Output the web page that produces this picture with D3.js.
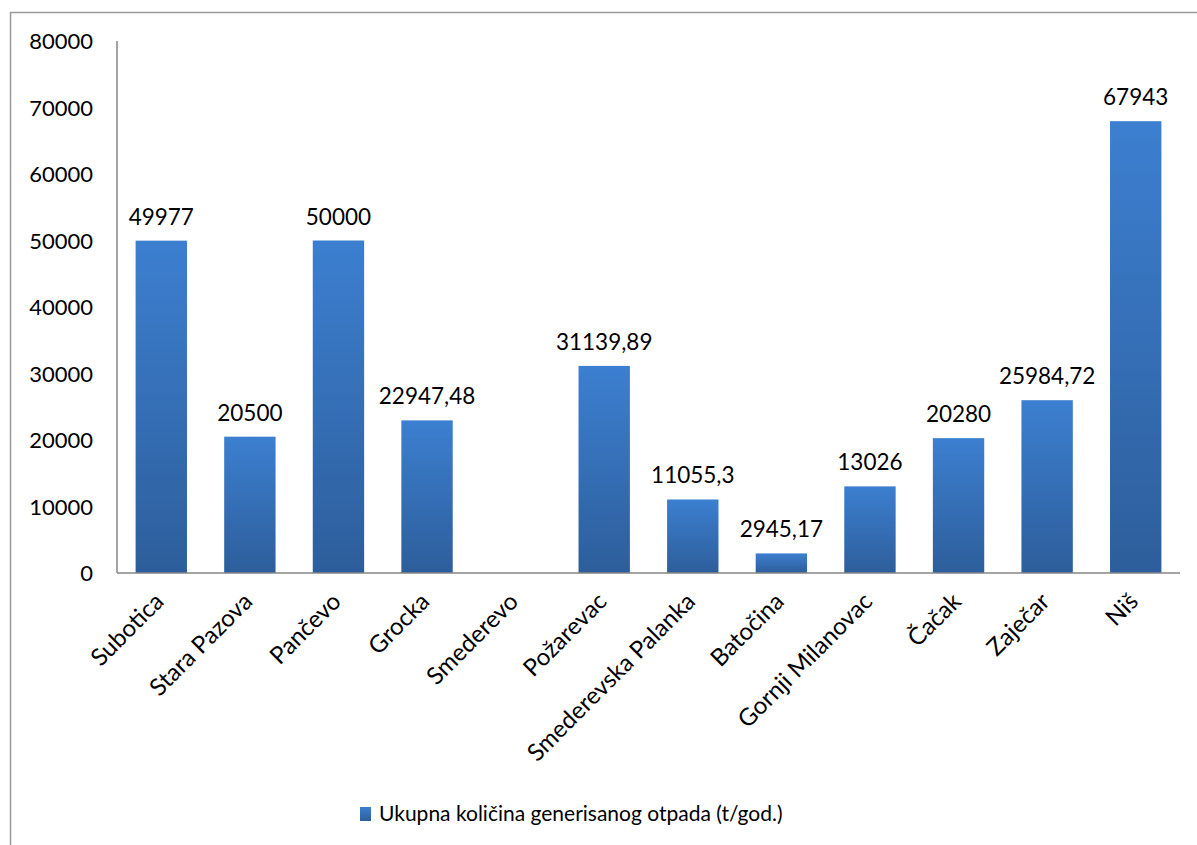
<!DOCTYPE html>
<html>
<head>
<meta charset="utf-8">
<script src="https://cdn.jsdelivr.net/npm/d3@7"></script>
<style>
  html, body { margin: 0; padding: 0; background: #fff; }
  svg { display: block; font-family: Lato, "Liberation Sans", sans-serif; }
</style>
</head>
<body>
<svg id="chart" width="1197" height="845"></svg>
<script>
// Municipalities and total generated waste (t/year); Smederevo has no value
const categories = ["Subotica", "Stara Pazova", "Pančevo", "Grocka", "Smederevo", "Požarevac",
  "Smederevska Palanka", "Batočina", "Gornji Milanovac", "Čačak", "Zaječar", "Niš"];
const values = [49977, 20500, 50000, 22947.48, null, 31139.89, 11055.3, 2945.17, 13026, 20280, 25984.72, 67943];
const valueLabels = ["49977", "20500", "50000", "22947,48", "", "31139,89", "11055,3", "2945,17", "13026", "20280", "25984,72", "67943"];
const yTicks = [0, 10000, 20000, 30000, 40000, 50000, 60000, 70000, 80000];
const seriesName = "Ukupna količina generisanog otpada (t/god.)";

const svg = d3.select("#chart");
const plot = { left: 117, right: 1180, top: 41, bottom: 573 };

// Outer chart frame (continues past the right and bottom edges)
svg.append("rect")
  .attr("x", 10.5).attr("y", 12.5)
  .attr("width", 1300).attr("height", 900)
  .attr("fill", "#fff").attr("stroke", "#9a9a9a").attr("stroke-width", 1.5);

const defs = svg.append("defs");
const grad = defs.append("linearGradient")
  .attr("id", "barFill").attr("x1", 0).attr("y1", 0).attr("x2", 0).attr("y2", 1);
grad.append("stop").attr("offset", "0%").attr("stop-color", "#3c7fd0");
grad.append("stop").attr("offset", "100%").attr("stop-color", "#2d5e9b");

const x = d3.scaleBand()
  .domain(categories)
  .range([plot.left, plot.right])
  .paddingInner(0.42)
  .paddingOuter(0.21);

const y = d3.scaleLinear()
  .domain([0, 80000])
  .range([plot.bottom, plot.top]);

// Y axis labels
const yAxis = d3.axisLeft(y).tickValues(yTicks).tickSize(0).tickPadding(0).tickFormat(d3.format("d"));
const gy = svg.append("g").attr("transform", `translate(${plot.left - 24},0)`).call(yAxis);
gy.select(".domain").remove();
gy.selectAll("text")
  .attr("font-family", "Lato, 'Liberation Sans', sans-serif")
  .attr("font-size", 22).attr("fill", "#000").attr("dy", "0.35em");

// Bars
const data = categories.map((c, i) => ({ c, v: values[i], label: valueLabels[i] }));
svg.append("g").selectAll("rect")
  .data(data.filter(d => d.v != null))
  .join("rect")
  .attr("x", d => x(d.c))
  .attr("y", d => y(d.v))
  .attr("width", x.bandwidth())
  .attr("height", d => y(0) - y(d.v))
  .attr("fill", "url(#barFill)");

// Value labels
svg.append("g").selectAll("text")
  .data(data.filter(d => d.v != null))
  .join("text")
  .attr("x", d => x(d.c) + x.bandwidth() / 2)
  .attr("y", d => y(d.v) - 16)
  .attr("text-anchor", "middle")
  .attr("font-size", 22.5)
  .attr("fill", "#000")
  .text(d => d.label);

// Axis lines
svg.append("line")
  .attr("x1", plot.left).attr("x2", plot.left)
  .attr("y1", plot.top).attr("y2", plot.bottom)
  .attr("stroke", "#868686").attr("stroke-width", 1.5);
svg.append("line")
  .attr("x1", plot.left).attr("x2", plot.right)
  .attr("y1", plot.bottom).attr("y2", plot.bottom)
  .attr("stroke", "#868686").attr("stroke-width", 1.5);

// Rotated category labels
const xAxis = d3.axisBottom(x).tickSize(0).tickPadding(0);
const gx = svg.append("g").attr("transform", `translate(0,${plot.bottom})`).call(xAxis);
gx.select(".domain").remove();
gx.selectAll("text")
  .attr("font-family", "Lato, 'Liberation Sans', sans-serif")
  .attr("font-size", 24).attr("fill", "#000")
  .attr("text-anchor", "end")
  .attr("dy", null)
  .attr("transform", "translate(4,30) rotate(-45)");

// Legend
const legend = svg.append("g").attr("transform", "translate(360,807)");
legend.append("rect").attr("width", 11).attr("height", 14).attr("fill", "url(#barFill)");
legend.append("text")
  .attr("x", 19).attr("y", 7).attr("dy", "0.35em")
  .attr("font-size", 21).attr("fill", "#000")
  .text(seriesName);
</script>
</body>
</html>
